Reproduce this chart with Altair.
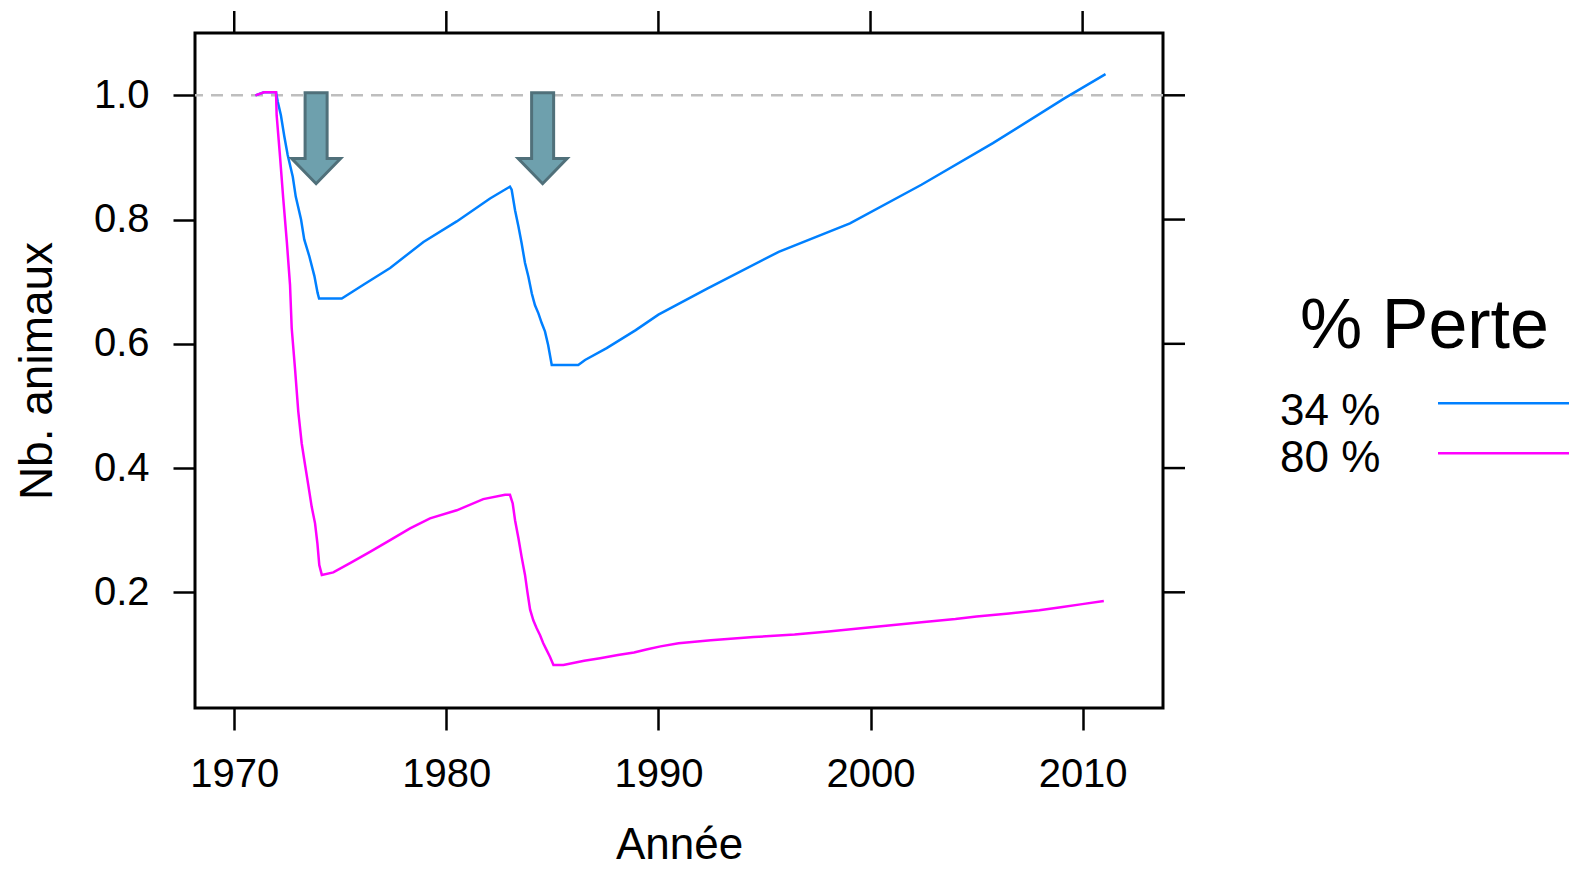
import altair as alt
import pandas as pd

# ---- data ----
years_34 = [1971.0, 1971.4, 1971.97, 1972.05, 1972.2, 1972.36, 1972.52, 1972.76, 1972.9,
            1973.15, 1973.3, 1973.54, 1973.78, 1973.93, 1974.0, 1975.07, 1976.09, 1977.35,
            1978.92, 1980.49, 1982.06, 1983.0, 1983.08, 1983.24, 1983.4, 1983.55, 1983.71,
            1983.87, 1984.03, 1984.18, 1984.34, 1984.5, 1984.65, 1984.8, 1984.97, 1986.22,
            1986.54, 1987.56, 1988.93, 1990.0, 1992.3, 1995.67, 1999.03, 2002.4, 2005.77,
            2009.14, 2011.08]
values_34 = [1.0, 1.005, 1.005, 0.99, 0.968, 0.934, 0.904, 0.869, 0.837,
             0.80, 0.768, 0.741, 0.709, 0.682, 0.673, 0.673, 0.695, 0.722,
             0.764, 0.797, 0.834, 0.853, 0.848, 0.815, 0.789, 0.762, 0.73,
             0.708, 0.681, 0.662, 0.649, 0.633, 0.62, 0.598, 0.566, 0.566,
             0.574, 0.593, 0.622, 0.647, 0.689, 0.748, 0.794, 0.856, 0.923,
             0.995, 1.034]

years_80 = [1971.0, 1971.4, 1971.97, 1972.0, 1972.16, 1972.31, 1972.48, 1972.63, 1972.71,
            1972.87, 1973.02, 1973.18, 1973.34, 1973.49, 1973.65, 1973.81, 1973.92, 1974.01,
            1974.13, 1974.67, 1975.46, 1976.4, 1977.35, 1978.29, 1979.23, 1980.49, 1981.74,
            1982.77, 1983.0, 1983.13, 1983.24, 1983.4, 1983.55, 1983.71, 1983.82, 1983.95,
            1984.1, 1984.26, 1984.42, 1984.57, 1984.73, 1984.89, 1985.05, 1985.52, 1986.5,
            1987.25, 1988.09, 1988.85, 1989.43, 1990.1, 1990.95, 1992.47, 1994.49, 1996.42,
            1998.02, 1999.54, 2000.97, 2002.4, 2004.0, 2005.0, 2006.53, 2007.96, 2008.97,
            2009.98, 2011.0]
values_80 = [1.0, 1.005, 1.005, 0.968, 0.901, 0.834, 0.764, 0.695, 0.625,
             0.558, 0.491, 0.44, 0.405, 0.373, 0.338, 0.311, 0.279, 0.244,
             0.228, 0.232, 0.247, 0.265, 0.284, 0.303, 0.319, 0.332, 0.35,
             0.357, 0.357, 0.343, 0.316, 0.287, 0.257, 0.228, 0.201, 0.172,
             0.155, 0.142, 0.131, 0.118, 0.107, 0.096, 0.083, 0.083, 0.09,
             0.094, 0.099, 0.103, 0.108, 0.113, 0.118, 0.123, 0.128, 0.132,
             0.137, 0.142, 0.147, 0.152, 0.157, 0.161, 0.166, 0.171, 0.176,
             0.181, 0.186]

series_labels = ["34 %", "80 %"]
series_colors = ["#0080FF", "#FF00FF"]
legend_title = "% Perte"

x_ticks = [1970, 1980, 1990, 2000, 2010]
y_ticks = [0.2, 0.4, 0.6, 0.8, 1.0]
reference_level = [1.0]

arrow_years = [1973.86, 1984.54]
arrow_values = [0.931, 0.931]

# ---- layout ----
W, H = 968, 675
FONT = "Liberation Sans"
x_dom = [1968.15, 2013.79]
y_dom = [0.0138, 1.1003]

df34 = pd.DataFrame({"annee": years_34, "nb": values_34, "serie": series_labels[0]})
df80 = pd.DataFrame({"annee": years_80, "nb": values_80, "serie": series_labels[1]})

xs = alt.Scale(domain=x_dom, nice=False, zero=False)
ys = alt.Scale(domain=y_dom, nice=False, zero=False)
cs = alt.Scale(domain=series_labels, range=series_colors)

x_axis = alt.Axis(values=x_ticks, format="d", title="Année", labelFont=FONT, labelFontSize=40,
                  labelColor="black", tickSize=22, tickWidth=2.5, tickColor="black",
                  domain=False, grid=False, labelPadding=24, titleFont=FONT, titleFontSize=44,
                  titleFontWeight="normal", titleColor="black", titlePadding=29,
                  labelFlush=False)
y_axis = alt.Axis(values=y_ticks, format=".1f", title="Nb. animaux", labelFont=FONT,
                  labelFontSize=40, labelColor="black", tickSize=22, tickWidth=2.5,
                  tickColor="black", domain=False, grid=False, labelPadding=24,
                  titleFont=FONT, titleFontSize=46, titleFontWeight="normal",
                  titleColor="black", titlePadding=32, labelFlush=False)

ref = alt.Chart(pd.DataFrame({"v": reference_level})).mark_rule(
    color="#BEBEBE", strokeDash=[12, 8], strokeWidth=2.5
).encode(y=alt.Y("v:Q", scale=ys, axis=y_axis))

line34 = alt.Chart(df34).mark_line(strokeWidth=2.5, interpolate="linear").encode(
    x=alt.X("annee:Q", scale=xs, axis=x_axis),
    y=alt.Y("nb:Q", scale=ys, axis=y_axis),
    color=alt.Color("serie:N", scale=cs, legend=None),
)
line80 = alt.Chart(df80).mark_line(strokeWidth=2.5, interpolate="linear").encode(
    x=alt.X("annee:Q", scale=xs, axis=x_axis),
    y=alt.Y("nb:Q", scale=ys, axis=y_axis),
    color=alt.Color("serie:N", scale=cs, legend=None),
)

arrow_path = "M-0.242,-1 L0.242,-1 L0.242,0.446 L0.538,0.446 L0,1 L-0.538,0.446 L-0.242,0.446 Z"
arrows = alt.Chart(pd.DataFrame({"annee": arrow_years, "nb": arrow_values})).mark_point(
    shape=arrow_path, size=8281, filled=True, fill="#6EA0AD", stroke="#50707A",
    strokeWidth=3, opacity=1, fillOpacity=1, strokeOpacity=1, strokeJoin="miter"
).encode(x=alt.X("annee:Q", scale=xs), y=alt.Y("nb:Q", scale=ys))

top_ticks = alt.Chart(pd.DataFrame({"t": x_ticks})).mark_rule(
    color="black", strokeWidth=2.5
).encode(x=alt.X("t:Q", scale=xs), y=alt.value(-22), y2=alt.value(0))
right_ticks = alt.Chart(pd.DataFrame({"t": y_ticks})).mark_rule(
    color="black", strokeWidth=2.5
).encode(y=alt.Y("t:Q", scale=ys), x=alt.value(W), x2=alt.value(W + 22))

legend_layers = [
    alt.Chart(pd.DataFrame({"t": [legend_title]})).mark_text(
        font=FONT, fontSize=70, align="left", baseline="alphabetic", color="black"
    ).encode(x=alt.value(1105), y=alt.value(315), text="t:N")
]
for i, (lab, col) in enumerate(zip(series_labels, series_colors)):
    legend_layers.append(
        alt.Chart(pd.DataFrame({"t": [lab]})).mark_text(
            font=FONT, fontSize=44, align="left", baseline="alphabetic", color="black"
        ).encode(x=alt.value(1085), y=alt.value(392 + 46.7 * i), text="t:N")
    )
    legend_layers.append(
        alt.Chart(pd.DataFrame({"t": [lab]})).mark_rule(color=col, strokeWidth=2.5).encode(
            x=alt.value(1243), x2=alt.value(1382), y=alt.value(370.3 + 50 * i)
        )
    )

chart = alt.layer(ref, line34, line80, arrows, top_ticks, right_ticks, *legend_layers).properties(
    width=W, height=H,
    autosize=alt.AutoSizeParams(type="none"),
    padding={"left": 187, "top": 25, "right": 406, "bottom": 158},
).configure(background="white").configure_view(stroke="black", strokeWidth=3)

chart.save("out.html", embed_options={"renderer": "svg", "actions": False})
